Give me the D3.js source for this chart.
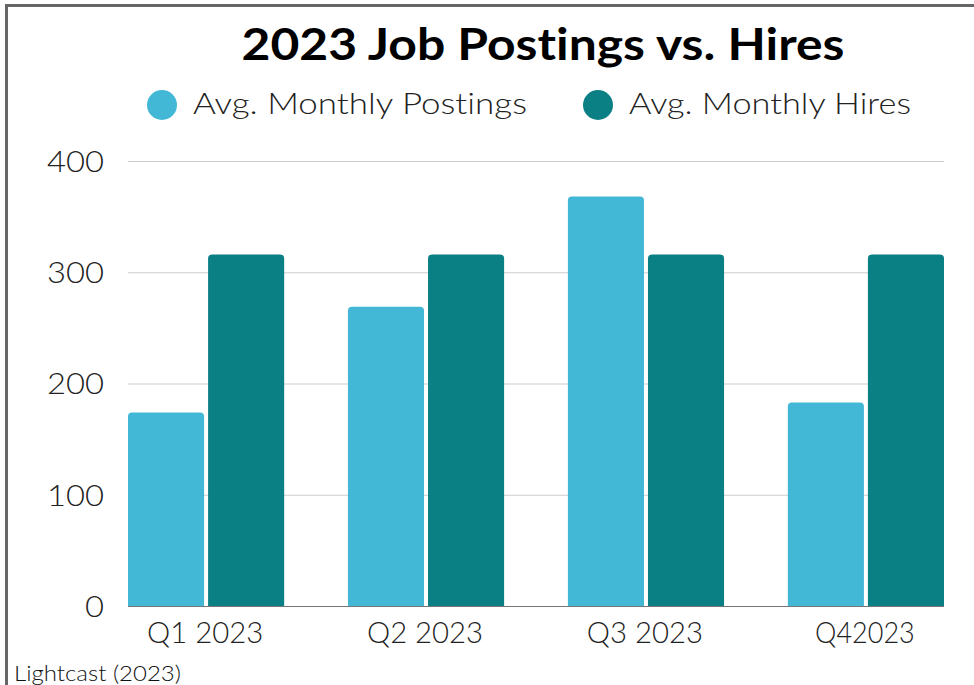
<!DOCTYPE html>
<html><head><meta charset="utf-8">
<script src="https://cdn.jsdelivr.net/npm/d3@7"></script>
<style>
html,body{margin:0;padding:0;background:#fff;}
svg{display:block;}
text{font-family:Lato,"Open Sans",sans-serif;font-variant-ligatures:none;font-feature-settings:"liga" 0;}
</style></head>
<body>
<svg id="chart" width="974" height="685"></svg>
<script>
const categories = ["Q1 2023", "Q2 2023", "Q3 2023", "Q42023"];
const seriesNames = ["Avg. Monthly Postings", "Avg. Monthly Hires"];
const postings = [174, 269, 368, 183];
const hires = [316, 316, 316, 316];
const yTicks = [0, 100, 200, 300, 400];
const colors = ["#42b7d6", "#0a7f84"];
const titleText = "2023 Job Postings vs. Hires";
const sourceText = "Lightcast (2023)";

const svg = d3.select("#chart");
const W = 974, H = 685;
const plot = {left: 128, right: 944, top: 161, bottom: 606};

// border
svg.append("path")
  .attr("d", `M6.5,${H+5} L6.5,5.5 L${W+5},5.5`)
  .attr("fill", "none").attr("stroke", "#666").attr("stroke-width", 3);

const x0 = d3.scaleBand().domain(categories).range([plot.left, plot.right])
  .paddingInner(0.29).paddingOuter(0);
const x1 = d3.scaleBand().domain(seriesNames).range([0, x0.bandwidth()])
  .paddingInner(0.05).paddingOuter(0);
const y = d3.scaleLinear().domain([0, 400]).range([plot.bottom, plot.top]);

// gridlines
svg.append("g")
  .selectAll("line").data(yTicks.filter(d => d > 0)).join("line")
  .attr("x1", plot.left).attr("x2", plot.right)
  .attr("y1", d => y(d) + 0.5).attr("y2", d => y(d) + 0.5)
  .attr("stroke", "#cccccc").attr("stroke-width", 1);

// y tick labels
svg.append("g").selectAll("text").data(yTicks).join("text")
  .attr("x", 104).attr("y", d => y(d))
  .attr("dy", "0.36em")
  .attr("text-anchor", "end")
  .attr("font-size", 30).attr("font-weight", 300).attr("fill", "#222")
  .attr("textLength", d => String(d).length * 19)
  .attr("lengthAdjust", "spacingAndGlyphs")
  .text(d => d);

// bars
const data = categories.map((c, i) => ({cat: c, vals: [postings[i], hires[i]]}));
const r = 4;
function topRounded(x, yTop, w, h) {
  const rr = Math.min(r, h / 2, w / 2);
  return `M${x},${yTop + h} L${x},${yTop + rr} Q${x},${yTop} ${x + rr},${yTop} L${x + w - rr},${yTop} Q${x + w},${yTop} ${x + w},${yTop + rr} L${x + w},${yTop + h} Z`;
}
const groups = svg.append("g").selectAll("g").data(data).join("g")
  .attr("transform", d => `translate(${x0(d.cat)},0)`);
groups.selectAll("path").data(d => d.vals.map((v, j) => ({v, s: seriesNames[j], j})))
  .join("path")
  .attr("d", d => topRounded(x1(d.s), y(d.v), x1.bandwidth(), y(0) - y(d.v)))
  .attr("fill", d => colors[d.j]);

// x axis line
svg.append("line")
  .attr("x1", plot.left).attr("x2", plot.right)
  .attr("y1", plot.bottom + 0.5).attr("y2", plot.bottom + 0.5)
  .attr("stroke", "#777").attr("stroke-width", 1);

// x labels
svg.append("g").selectAll("text").data(categories).join("text")
  .attr("x", d => x0(d) + x0.bandwidth() / 2 - 1)
  .attr("y", 643)
  .attr("text-anchor", "middle")
  .attr("font-size", 29).attr("font-weight", 300).attr("fill", "#222")
  .attr("textLength", d => d.length * 16.6)
  .attr("lengthAdjust", "spacingAndGlyphs")
  .text(d => d);

// title
svg.append("text")
  .attr("x", 543).attr("y", 60)
  .attr("text-anchor", "middle")
  .attr("font-size", 43).attr("font-weight", 700).attr("fill", "#000")
  .attr("textLength", 603).attr("lengthAdjust", "spacingAndGlyphs")
  .text(titleText);

// legend
const legendX = [162, 598];
const legendTextW = [334, 282];
const leg = svg.append("g").selectAll("g").data(seriesNames).join("g");
leg.append("circle")
  .attr("cx", (d, i) => legendX[i]).attr("cy", 105).attr("r", 15)
  .attr("fill", (d, i) => colors[i]);
leg.append("text")
  .attr("x", (d, i) => legendX[i] + 31).attr("y", 114)
  .attr("font-size", 30).attr("font-weight", 300).attr("fill", "#222")
  .attr("textLength", (d, i) => legendTextW[i]).attr("lengthAdjust", "spacingAndGlyphs")
  .text(d => d);

// source
svg.append("text")
  .attr("x", 14).attr("y", 681)
  .attr("font-size", 21).attr("font-weight", 300).attr("fill", "#111")
  .attr("textLength", 167).attr("lengthAdjust", "spacingAndGlyphs")
  .text(sourceText);
</script>
</body></html>
